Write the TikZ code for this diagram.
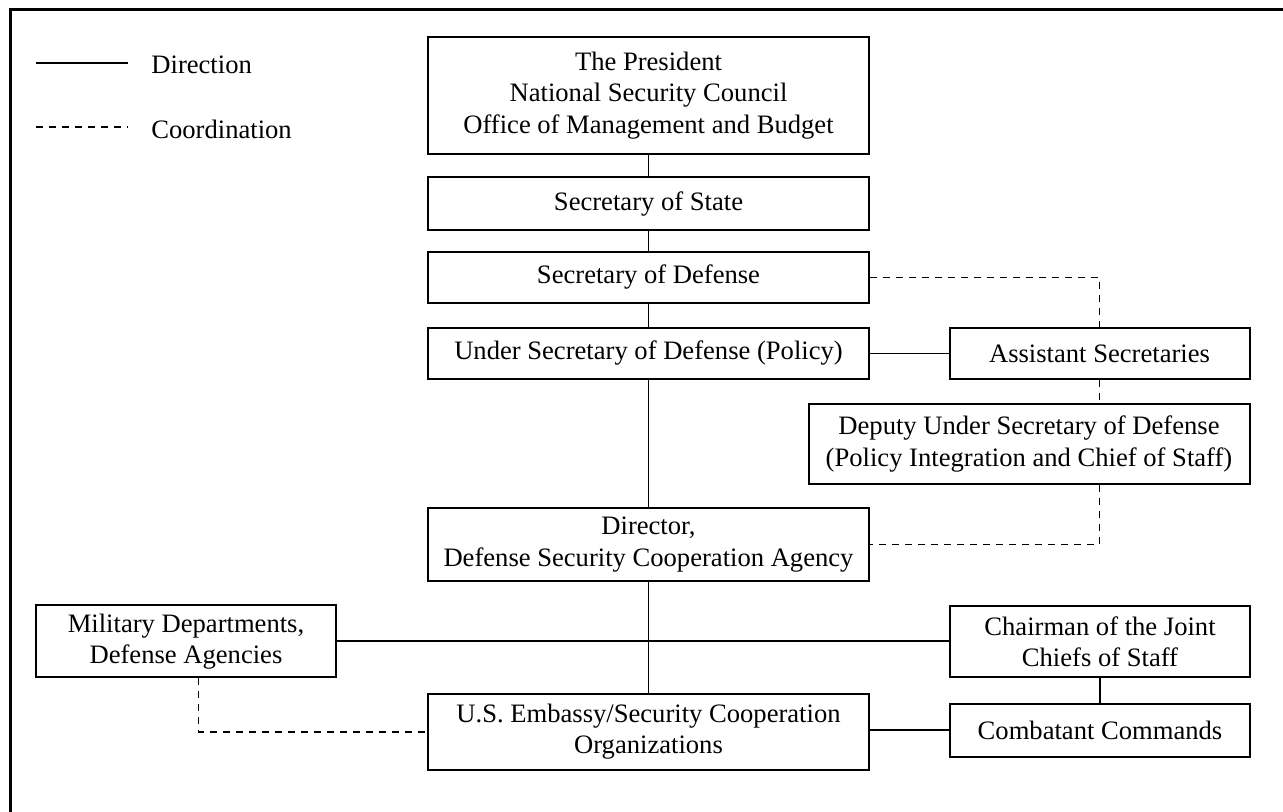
\documentclass[tikz,border=0pt]{standalone}
\usepackage{fontspec}
\setmainfont{Liberation Serif}
\usetikzlibrary{positioning}
\usetikzlibrary{calc}

\begin{document}
\begin{tikzpicture}
    [x=0.5pt, y=-0.5pt,
    office/.style={draw, line width=1pt, align=center, inner sep=0pt,
      font=\fontsize{13.3}{15.6}\selectfont},
    wide/.style={office, minimum width=220.5pt},
    narrow/.style={office, minimum width=150pt},
    direction/.style={line width=0.9pt},
    coordination/.style={line width=0.9pt, dash pattern=on 3.5pt off 3pt},
    legend/.style={anchor=west, inner sep=0pt, font=\fontsize{13.3}{15.6}\selectfont}]
    \useasboundingbox (0,0) rectangle (1283,812);
    % frame
    \draw[line width=1.5pt] (10,812) -- (10,10) -- (1283,10);
    % legend
    \coordinate (d1) at (36,63);
    \coordinate (d2) at (128,63);
    \coordinate (c1) at (36,127);
    \coordinate (c2) at (128,127);
    \draw[direction] (d1) -- (d2);
    \draw[coordination] (c1) -- (c2);
    \node[legend] (Ld) at (151,65) {Direction};
    \node[legend] (Lc) at (151,129) {Coordination};
    % offices
    \node[wide, minimum height=58.8pt] (P) at (648.5,95.5)
      {The President\\National Security Council\\Office of Management and Budget};
    \node[wide, minimum height=26.3pt] (SS) at (648.5,203.7) {Secretary of State};
    \node[wide, minimum height=25.8pt] (SD) at (648.5,277.5) {Secretary of Defense};
    \node[wide, minimum height=25.8pt] (USD) at (648.5,353.5) {Under Secretary of Defense (Policy)};
    \node[narrow, minimum height=25.8pt] (AS) at (1099.5,353.5) {Assistant Secretaries};
    \node[wide, minimum height=40.2pt] (DUS) at (1029,444)
      {Deputy Under Secretary of Defense\\(Policy Integration and Chief of Staff)};
    \node[wide, minimum height=36.2pt] (D) at (648.5,544.5)
      {Director,\\Defense Security Cooperation Agency};
    \node[narrow, minimum height=36pt] (MD) at (186,641.3)
      {Military Departments,\\Defense Agencies};
    \node[narrow, minimum height=35.7pt] (CJ) at (1100,641.5)
      {Chairman of the Joint\\Chiefs of Staff};
    \node[narrow, minimum height=26.5pt] (CC) at (1100,730) {Combatant Commands};
    \node[wide, minimum height=38pt] (E) at (648.5,732)
      {U.S. Embassy/Security Cooperation\\Organizations};
    % direction
    \draw[direction] (P) -- (SS);
    \draw[direction] (SS) -- (SD);
    \draw[direction] (SD) -- (USD);
    \draw[direction] (USD) -- (AS);
    \draw[direction] (USD) -- (D);
    \draw[direction] (D) -- (E);
    \draw[direction] (MD.east) -- (MD.east -| CJ.west);
    \draw[direction] (CJ) -- (CC);
    \draw[direction] (CC.west) -- (CC.west -| E.east);
    % coordination
    \draw[coordination] (SD.east) -| (AS.north);
    \draw[coordination] (AS.south) -- (AS.south |- DUS.north);
    \draw[coordination] (AS.south |- DUS.south) |- (D.east);
    \draw[coordination] ([xshift=6.25pt]MD.south) |- (E.west);
\end{tikzpicture}
\end{document}
